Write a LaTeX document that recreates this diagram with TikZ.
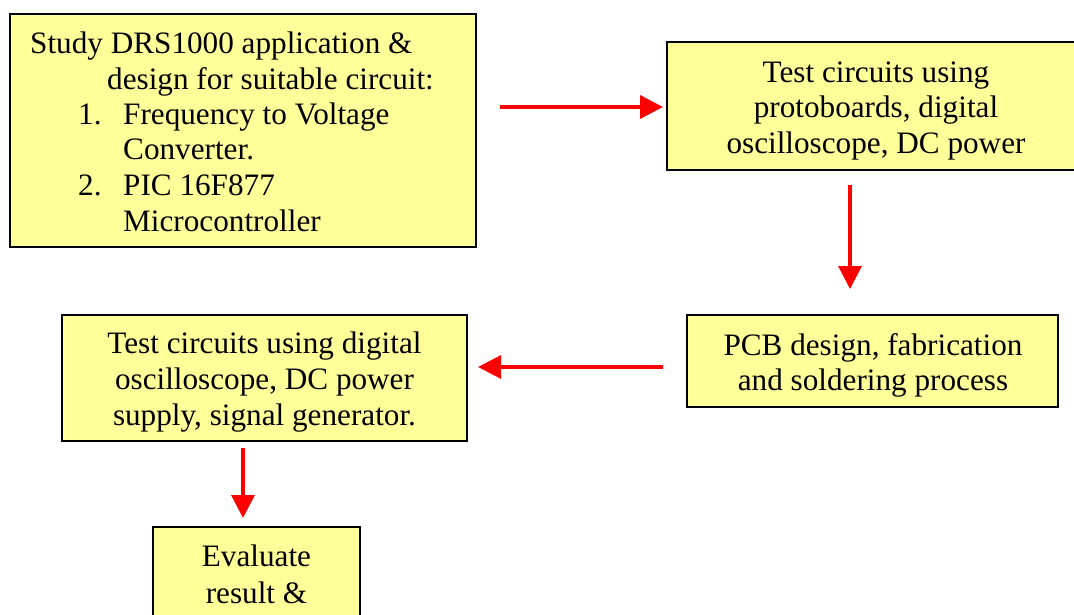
\documentclass[tikz,border=0pt]{standalone}
\usepackage{fontspec}
\setmainfont{Liberation Serif}
\usetikzlibrary{arrows.meta}
\definecolor{boxfill}{HTML}{FFFF99}
\definecolor{arrred}{HTML}{FF0000}
\begin{document}
\begin{tikzpicture}[x=1pt,y=-1pt,
  box/.style={draw=black, line width=1.8pt, fill=boxfill, inner sep=0pt, outer sep=0pt},
  txt/.style={anchor=base, font=\fontsize{31.2}{36}\selectfont, inner sep=0pt},
  txtl/.style={txt, anchor=base west},
  arr/.style={draw=arrred, line width=3.2pt, -{Triangle[length=23pt,width=23pt]}}]
\useasboundingbox (0,0) rectangle (1074,614);
\clip (0,0) rectangle (1074,614);
% boxes
\node[box, minimum width=466pt, minimum height=233pt] (b1) at (243,130.5) {};
\node[box, minimum width=423pt, minimum height=128pt] (b2) at (878.5,106) {};
\node[box, minimum width=371pt, minimum height=92pt] (b3) at (872.5,361) {};
\node[box, minimum width=405pt, minimum height=126pt] (b4) at (264.5,378) {};
\node[box, minimum width=207pt, minimum height=123pt] (b5) at (256.5,588.5) {};
% box 1 text
\node[txtl] (t11) at (30,53) {Study DRS1000 application \&};
\node[txtl] (t12) at (107,89) {design for suitable circuit:};
\node[txtl] (t13n) at (78,124) {1.};
\node[txtl] (t13) at (123,124) {Frequency to Voltage};
\node[txtl] (t14) at (123,159) {Converter.};
\node[txtl] (t15n) at (78,195) {2.};
\node[txtl] (t15) at (123,195) {PIC 16F877};
\node[txtl] (t16) at (123,231) {Microcontroller};
% box 2 text
\node[txt] (t21) at (876,82) {Test circuits using};
\node[txt] (t22) at (876,117) {protoboards, digital};
\node[txt] (t23) at (876,153) {oscilloscope, DC power};
% box 3 text
\node[txt] (t31) at (873,355) {PCB design, fabrication};
\node[txt] (t32) at (873,390) {and soldering process};
% box 4 text
\node[txt] (t41) at (264.5,353) {Test circuits using digital};
\node[txt] (t42) at (264.5,389) {oscilloscope, DC power};
\node[txt] (t43) at (264.5,425) {supply, signal generator.};
% box 5 text
\node[txt] (t51) at (256.5,566) {Evaluate};
\node[txt] (t52) at (256.5,603) {result \&};
% arrow end points
\coordinate (a1s) at (500,107);
\coordinate (a1e) at (663,107);
\coordinate (a2s) at (850,185);
\coordinate (a2e) at (850,289);
\coordinate (a3s) at (663,367);
\coordinate (a3e) at (478,367);
\coordinate (a4s) at (243,448);
\coordinate (a4e) at (243,518);
\draw[arr] (a1s) -- (a1e);
\draw[arr] (a2s) -- (a2e);
\draw[arr] (a3s) -- (a3e);
\draw[arr] (a4s) -- (a4e);
\end{tikzpicture}
\end{document}
